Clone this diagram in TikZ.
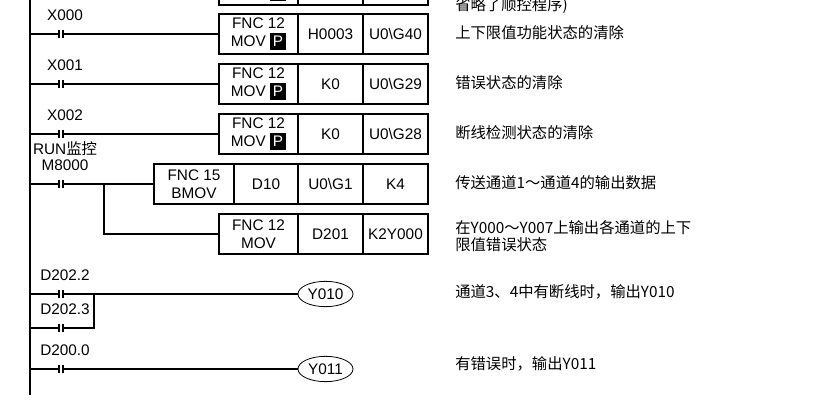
\documentclass[tikz,border=0pt]{standalone}
\usepackage{fontspec}
\setmainfont{Liberation Sans}
\newfontfamily\cjk{Noto Sans CJK SC}
\usetikzlibrary{positioning,shapes.geometric}
\newcommand{\pmark}{{\setlength{\fboxsep}{2.2pt}\colorbox{black}{\textcolor{white}{P}}}}

\begin{document}
\begin{tikzpicture}[x=0.75pt, y=-0.75pt,
    wire/.style={line width=1.5pt},
    rail/.style={line width=2.2pt},
    cell/.style={draw, line width=1.6pt, rectangle, minimum height=30pt, inner sep=0pt, outer sep=0pt, align=center, font=\fontsize{11.5}{13.5}\selectfont},
    fnc/.style={cell, minimum width=59.25pt},
    arg/.style={cell, minimum width=48.75pt},
    contact/.style={rectangle, minimum width=3pt, minimum height=6pt, inner sep=0pt, outer sep=0pt,
      append after command={(\tikzlastnode.north west) edge[line width=1.5pt] (\tikzlastnode.south west)
        (\tikzlastnode.north east) edge[line width=1.5pt] (\tikzlastnode.south east)}},
    tag/.style={font=\fontsize{11.5}{12}\selectfont, inner sep=0pt, label distance=7pt, xshift=3pt},
    coil/.style={ellipse, draw, line width=0.6pt, minimum width=41.25pt, minimum height=19pt, inner sep=0pt, font=\fontsize{11.5}{13}\selectfont},
    note/.style={font=\cjk\fontsize{11.5}{12.75}\selectfont, inner sep=0pt, anchor=west, align=left}]
    \useasboundingbox (0,0) rectangle (830,402);
    \clip (0,0) rectangle (830,402);

    %Rail
    \coordinate (top) at (30,0);
    \coordinate (bot) at (30,395);
    \draw[rail] (top) -- (bot);

    %Previous rung (cut off)
    \node[fnc, anchor=south west] (mov0) at (219,5) {FNC 12\\MOV \pmark};
    \node[arg, right=0pt of mov0] (mov0s) {};
    \node[arg, right=0pt of mov0s] (mov0d) {};
    \node[note] (n0) at (455,6) {省略了顺控程序)};

    %X000
    \coordinate (r1) at (30,34);
    \node[contact, label={[tag]above:X000}] (x0) at (61,34) {};
    \node[fnc, anchor=west] (mov1) at (219,34) {FNC 12\\MOV \pmark};
    \node[arg, right=0pt of mov1] (mov1s) {H0003};
    \node[arg, right=0pt of mov1s] (mov1d) {U0\textbackslash G40};
    \draw[wire] (r1) -- (x0) -- (mov1);
    \node[note] (n1) at (455,33) {上下限值功能状态的清除};

    %X001
    \coordinate (r2) at (30,84);
    \node[contact, label={[tag]above:X001}] (x1) at (61,84) {};
    \node[fnc, anchor=west] (mov2) at (219,84) {FNC 12\\MOV \pmark};
    \node[arg, right=0pt of mov2] (mov2s) {K0};
    \node[arg, right=0pt of mov2s] (mov2d) {U0\textbackslash G29};
    \draw[wire] (r2) -- (x1) -- (mov2);
    \node[note] (n2) at (455,83) {错误状态的清除};

    %X002
    \coordinate (r3) at (30,134);
    \node[contact, label={[tag]above:X002}] (x2) at (61,134) {};
    \node[fnc, anchor=west] (mov3) at (219,134) {FNC 12\\MOV \pmark};
    \node[arg, right=0pt of mov3] (mov3s) {K0};
    \node[arg, right=0pt of mov3s] (mov3d) {U0\textbackslash G28};
    \draw[wire] (r3) -- (x2) -- (mov3);
    \node[note] (n3) at (455,133) {断线检测状态的清除};

    %M8000
    \coordinate (r4) at (30,184);
    \node[contact, label={[tag, align=center]above:RUN{\cjk 监控}\\M8000}] (m8000) at (61,184) {};
    \node[fnc, minimum width=60pt, anchor=west] (bmov) at (154,184) {FNC 15\\BMOV};
    \node[arg, minimum width=48pt, right=0pt of bmov] (bmovs) {D10};
    \node[arg, right=0pt of bmovs] (bmovd) {U0\textbackslash G1};
    \node[arg, right=0pt of bmovd] (bmovn) {K4};
    \draw[wire] (r4) -- (m8000) -- (bmov);
    \node[note] (n4) at (455,183) {传送通道1～通道4的输出数据};

    \coordinate (br) at (104,184);
    \node[fnc, anchor=west] (mov4) at (219,234) {FNC 12\\MOV};
    \node[arg, right=0pt of mov4] (mov4s) {D201};
    \node[arg, right=0pt of mov4s] (mov4d) {K2Y000};
    \draw[wire] (br) |- (mov4);
    \node[note] (n5) at (455,236.5) {在Y000～Y007上输出各通道的上下\\限值错误状态};

    %D202.2 / D202.3
    \coordinate (r6) at (30,294);
    \coordinate (r6b) at (30,328);
    \coordinate (j6) at (94,294);
    \node[contact, label={[tag]above:D202.2}] (d2022) at (61,294) {};
    \node[contact, label={[tag]above:D202.3}] (d2023) at (61,328) {};
    \node[coil] (y10) at (325.5,294) {Y010};
    \draw[wire] (r6) -- (d2022) -- (y10);
    \draw[wire] (r6b) -- (d2023) -- (d2023 -| j6) -- (j6);
    \node[note] (n6) at (455,292) {通道3、4中有断线时，输出Y010};

    %D200.0
    \coordinate (r7) at (30,369);
    \node[contact, label={[tag]above:D200.0}] (d2000) at (61,369) {};
    \node[coil] (y11) at (325.5,369) {Y011};
    \draw[wire] (r7) -- (d2000) -- (y11);
    \node[note] (n7) at (455,364) {有错误时，输出Y011};
\end{tikzpicture}
\end{document}
